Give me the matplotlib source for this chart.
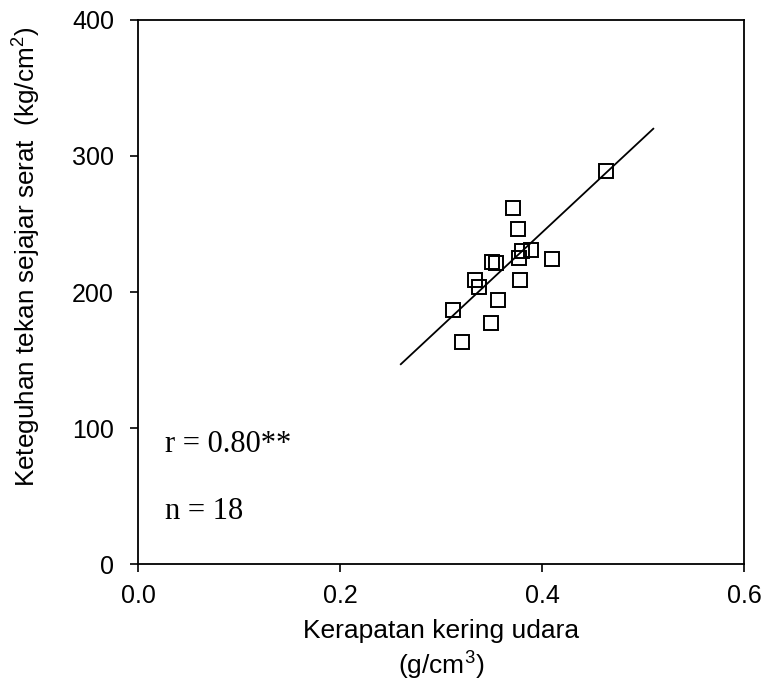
import matplotlib
matplotlib.use("Agg")
import matplotlib.pyplot as plt

# density (g/cm3) vs compression strength (kg/cm2)
density = [0.463, 0.371, 0.376, 0.380, 0.389, 0.377, 0.410, 0.350, 0.354,
           0.333, 0.337, 0.378, 0.356, 0.312, 0.349, 0.321]
strength = [289, 262, 246, 230, 231, 225, 224, 222, 221,
            209, 204, 209, 194, 187, 177, 163]

# regression line end points
fit_x = [0.26, 0.51]
fit_y = [147, 320]

x_ticks = [0.0, 0.2, 0.4, 0.6]
y_ticks = [0, 100, 200, 300, 400]

plt.rcParams['font.family'] = ['Liberation Sans', 'DejaVu Sans']
plt.rcParams['mathtext.default'] = 'regular'

fig = plt.figure(figsize=(7.68, 6.84), dpi=100)
ax = fig.add_axes([0.180, 0.175, 0.789, 0.796])

ax.plot(fit_x, fit_y, color='black', lw=1.3)
ax.plot(density, strength, 's', ms=10, mfc='none', mec='black', mew=1.4)

ax.set_xlim(0, 0.6)
ax.set_ylim(0, 400)
ax.set_xticks(x_ticks)
ax.set_xticklabels([f"{v:.1f}" for v in x_ticks])
ax.set_yticks(y_ticks)
ax.tick_params(direction='out', length=5.5, width=1.2, labelsize=18)
ax.tick_params(axis='x', pad=9)
ax.tick_params(axis='y', pad=12)
for s in ax.spines.values():
    s.set_linewidth(1.3)

ax.set_xlabel("Kerapatan kering udara\n(g/cm$^3$)", fontsize=19,
              linespacing=1.3)
ax.xaxis.set_label_coords(0.5, -0.1)
ax.set_ylabel("Keteguhan tekan sejajar serat  (kg/cm$^2$)", fontsize=18.8)
ax.yaxis.set_label_coords(-0.157, 0.564)

ax.text(0.0446, 0.206, "r = 0.80**", transform=ax.transAxes, fontsize=22,
        family='Liberation Serif', va='baseline')
ax.text(0.0446, 0.083, "n = 18", transform=ax.transAxes, fontsize=22,
        family='Liberation Serif', va='baseline')

fig.savefig("out.png", dpi=100)
